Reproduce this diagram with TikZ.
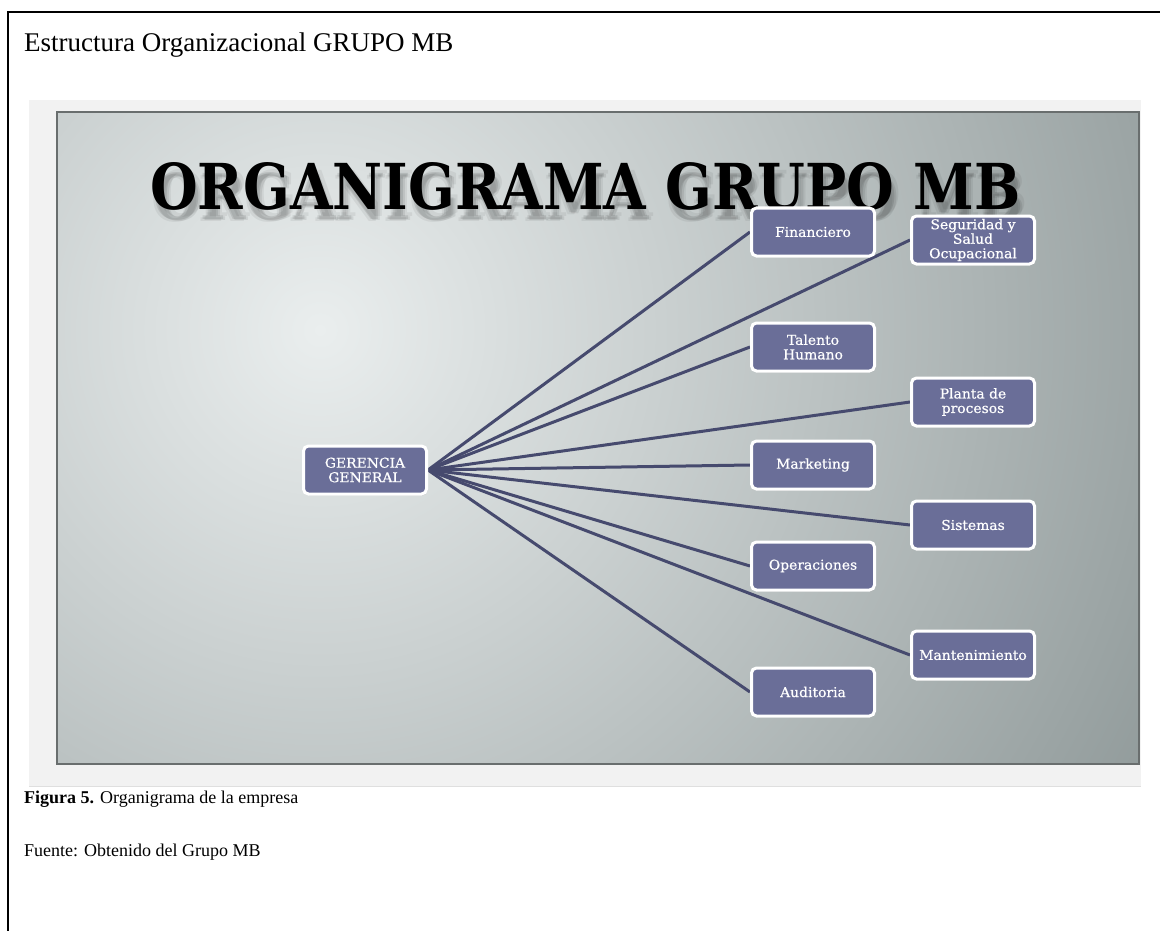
\documentclass[tikz,border=0pt]{standalone}
\usepackage{fontspec}
\setmainfont{Liberation Serif}
\newfontfamily\slabfont[FakeStretch=1.03,FakeBold=0.6]{DejaVu Serif}
\newfontfamily\headfont{DejaVu Serif}
\usetikzlibrary{shadows}

\definecolor{boxfill}{RGB}{106,110,152}
\definecolor{linkcol}{RGB}{70,74,110}
\definecolor{panelinner}{RGB}{234,238,238}
\definecolor{panelouter}{RGB}{140,150,150}
\definecolor{panelborder}{RGB}{105,110,110}
\definecolor{stripcol}{RGB}{242,242,242}

\pgfdeclarelayer{back}
\pgfdeclarelayer{mid}
\pgfsetlayers{back,mid,main}

\tikzset{
  unitbox/.style={draw=white, line width=3pt, fill=boxfill, rounded corners=5pt,
    minimum width=123pt, minimum height=48pt, text=white, align=center,
    inner sep=2pt, font=\slabfont\fontsize{13.5}{14.5}\selectfont,
    drop shadow={opacity=0.25, shadow xshift=1pt, shadow yshift=-1.5pt}},
  link/.style={draw=linkcol, line width=3pt},
  plain/.style={anchor=base west, inner sep=0pt}
}

\begin{document}
\begin{tikzpicture}[x=1pt,y=-1pt]
\useasboundingbox (0,0) rectangle (1160,931);

\begin{pgfonlayer}{back}
  \fill[white] (0,0) rectangle (1160,931);
  % outer frame (left and top rules)
  \draw[line width=1.6pt] (8,931) -- (8,12) -- (1160,12);
  % slide with its light surround
  \fill[stripcol] (29,100) rectangle (1141,786);
  \draw[gray!25, line width=1pt] (29,786) -- (1141,786);
  \begin{scope}
    \clip (57,112) rectangle (1139,764);
    \fill[panelouter] (57,112) rectangle (1139,764);
    \shade[inner color=panelinner, outer color=panelouter] (320,330) circle (1000);
  \end{scope}
  \draw[panelborder, line width=1.3pt] (57,112) rectangle (1139,764);
\end{pgfonlayer}

% page texts
\node[plain, font=\fontsize{27}{30}\selectfont] (pagetitle) at (24,52) {Estructura Organizacional GRUPO MB};
\node[plain, font=\fontsize{18}{20}\selectfont] (caption) at (24,803) {\textbf{Figura 5.} Organigrama de la empresa};
\node[plain, font=\fontsize{18}{20}\selectfont] (source) at (24,856) {Fuente: Obtenido del Grupo MB};

% slide heading with a soft shadow
\foreach \dx/\dy/\o [count=\i] in {3/9/0.10, 5/11/0.08, 1/12/0.06, 7/7/0.06}
  \node[plain, opacity=\o] (headshadow\i) at (150+\dx,210+\dy)
    {\resizebox{870pt}{47pt}{\headfont\bfseries ORGANIGRAMA GRUPO MB}};
\node[plain] (heading) at (150,210)
  {\resizebox{870pt}{47pt}{\headfont\bfseries ORGANIGRAMA GRUPO MB}};

% organisation units
\node[unitbox] (ger) at (365,470) {GERENCIA\\GENERAL};
\node[unitbox] (fin) at (813,232) {Financiero};
\node[unitbox] (seg) at (973,240) {Seguridad y\\Salud\\Ocupacional};
\node[unitbox] (tal) at (813,347) {Talento\\Humano};
\node[unitbox] (pla) at (973,402) {Planta de\\procesos};
\node[unitbox] (mar) at (813,465) {Marketing};
\node[unitbox] (sis) at (973,525) {Sistemas};
\node[unitbox] (ope) at (813,566) {Operaciones};
\node[unitbox] (man) at (973,655) {Mantenimiento};
\node[unitbox] (aud) at (813,692) {Auditoria};

% reporting lines
\begin{pgfonlayer}{mid}
  \foreach \t in {fin,seg,tal,pla,mar,sis,ope,man,aud}
    \draw[link] (ger.east) -- (\t.west);
\end{pgfonlayer}
\end{tikzpicture}
\end{document}
